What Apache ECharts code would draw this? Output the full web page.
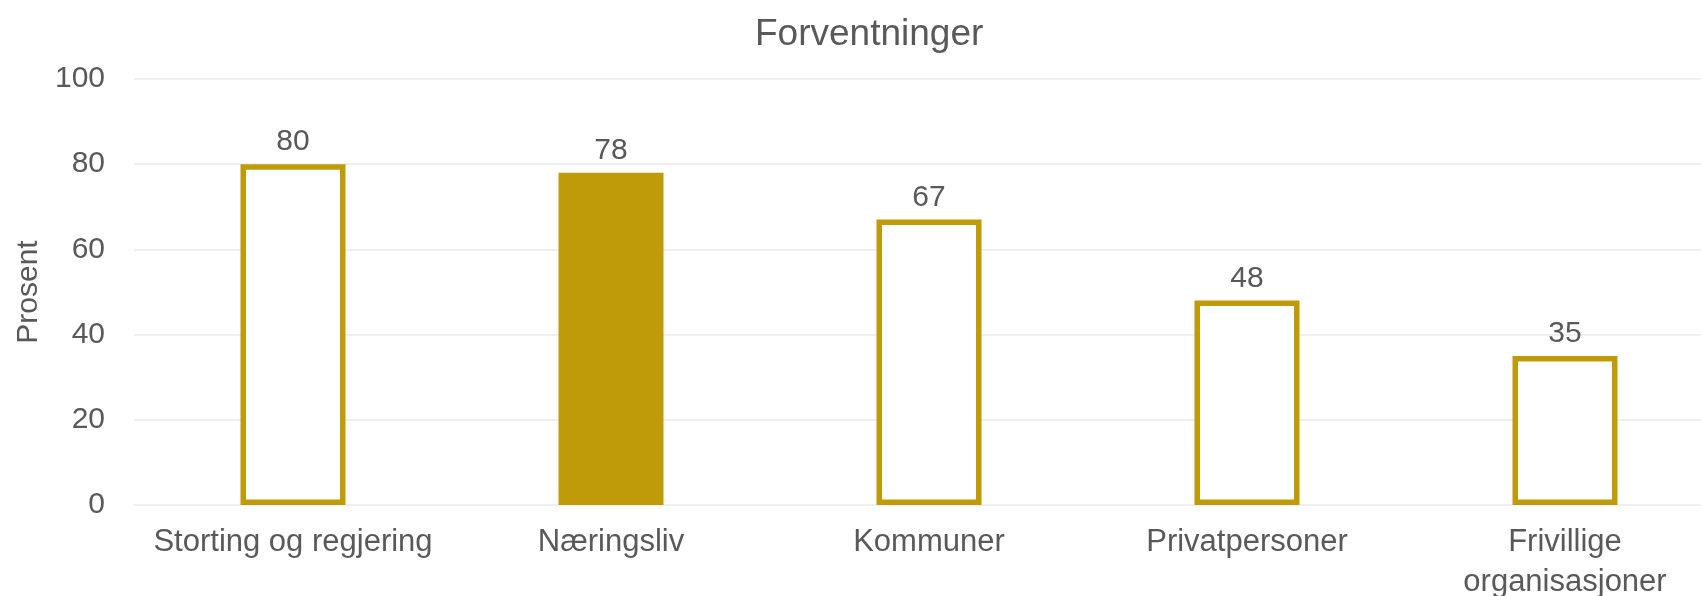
<!DOCTYPE html>
<html>
<head>
<meta charset="utf-8">
<title>Forventninger</title>
<script src="https://cdn.jsdelivr.net/npm/echarts@6/dist/echarts.min.js"></script>
<style>
  html, body { margin: 0; padding: 0; background: #fff; }
  #chart { width: 1701px; height: 596px; }
</style>
</head>
<body>
<div id="chart"></div>
<script>
var categories = ['Storting og regjering', 'Næringsliv', 'Kommuner', 'Privatpersoner', 'Frivillige\norganisasjoner'];
var values = [80, 78, 67, 48, 35];
var filledCategory = 'Næringsliv';
var yTicks = [0, 20, 40, 60, 80, 100];

var gold = '#BF9B0A';
var textColor = '#595959';
var font = '"Liberation Sans", Arial, sans-serif';

var chart = echarts.init(document.getElementById('chart'));

var seriesData = [];
for (var i = 0; i < values.length; i++) {
	var filled = categories[i] == filledCategory;
	seriesData.push({
		value: values[i],
		itemStyle: {
			color: filled ? gold : '#ffffff',
			borderColor: gold,
			borderWidth: 5.5
		}
	});
}

var option = {
	backgroundColor: '#ffffff',
	animation: false,
	textStyle: { fontFamily: font },
	title: {
		text: 'Forventninger',
		left: 750,
		top: 11,
		textStyle: { color: textColor, fontSize: 37, fontWeight: 'normal', fontFamily: font }
	},
	grid: {
		left: 134,
		top: 79,
		bottom: 91,
		width: 1590,
		outerBoundsMode: 'none',
		containLabel: false
	},
	xAxis: {
		type: 'category',
		data: categories,
		axisLine: { lineStyle: { color: '#EFEFEF', width: 2 } },
		axisTick: { show: false },
		axisLabel: {
			color: textColor,
			fontSize: 31,
			lineHeight: 40,
			margin: 17,
			interval: 0,
			fontFamily: font
		}
	},
	yAxis: {
		type: 'value',
		min: yTicks[0],
		max: yTicks[yTicks.length - 1],
		interval: 20,
		name: 'Prosent',
		nameLocation: 'middle',
		nameGap: 88,
		nameTextStyle: { color: textColor, fontSize: 30, fontFamily: font },
		axisLine: { show: false },
		axisTick: { show: false },
		axisLabel: { color: textColor, fontSize: 30, margin: 29, fontFamily: font },
		splitLine: { lineStyle: { color: '#EFEFEF', width: 2 } }
	},
	series: [
		{
			type: 'bar',
			barWidth: 105,
			data: seriesData,
			label: {
				show: true,
				position: 'top',
				distance: 7,
				color: textColor,
				fontSize: 30,
				fontFamily: font
			}
		}
	]
};
chart.setOption(option);
</script>
</body>
</html>
